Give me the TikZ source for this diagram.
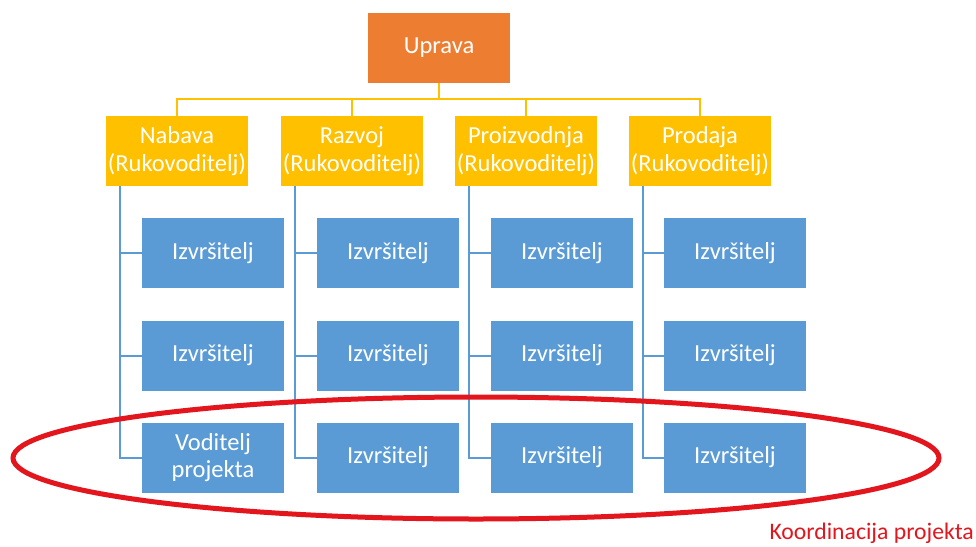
\documentclass[tikz,border=0pt]{standalone}
\usepackage{fontspec}
\setmainfont{Carlito}
\usetikzlibrary{calc,shapes.geometric}
\definecolor{cOrange}{HTML}{ED7D31}
\definecolor{cYellow}{HTML}{FFC000}
\definecolor{cBlue}{HTML}{5B9BD5}
\definecolor{cRed}{HTML}{E3161E}
\begin{document}
\begin{tikzpicture}[x=1pt,y=-1pt,
  box/.style={minimum width=142pt,minimum height=70pt,inner sep=0pt,align=center,
    text=white,font=\fontsize{24.5}{27.5}\selectfont},
  topbox/.style={box,fill=cOrange},
  headbox/.style={box,fill=cYellow},
  workbox/.style={box,fill=cBlue},
  yline/.style={draw=cYellow,line width=2pt},
  bline/.style={draw=cBlue,line width=2pt}]
\useasboundingbox (0,0) rectangle (976,546);
\fill[white] (0,0) rectangle (976,546);
% top
\node[topbox] (up) at (439,48) {Uprava};
% heads
\node[headbox] (h1) at (177,151) {Nabava\\(Rukovoditelj)};
\node[headbox] (h2) at (352,151) {Razvoj\\(Rukovoditelj)};
\node[headbox] (h3) at (526,151) {Proizvodnja\\(Rukovoditelj)};
\node[headbox] (h4) at (700,151) {Prodaja\\(Rukovoditelj)};
% workers
\node[workbox] (w11) at (213,253) {Izvršitelj};
\node[workbox] (w12) at (213,355.5) {Izvršitelj};
\node[workbox] (w13) at (213,457.5) {Voditelj\\projekta};
\node[workbox] (w21) at (388,253) {Izvršitelj};
\node[workbox] (w22) at (388,355.5) {Izvršitelj};
\node[workbox] (w23) at (388,457.5) {Izvršitelj};
\node[workbox] (w31) at (562,253) {Izvršitelj};
\node[workbox] (w32) at (562,355.5) {Izvršitelj};
\node[workbox] (w33) at (562,457.5) {Izvršitelj};
\node[workbox] (w41) at (735,253) {Izvršitelj};
\node[workbox] (w42) at (735,355.5) {Izvršitelj};
\node[workbox] (w43) at (735,457.5) {Izvršitelj};
% yellow connectors
\coordinate (bus) at ($(up.south)+(0,16)$);
\draw[yline] (up.south) -- (bus);
\draw[yline] (h1.north) |- (bus) -| (h4.north);
\draw[yline] (h2.north) -- (h2.north |- bus);
\draw[yline] (h3.north) -- (h3.north |- bus);
% blue connectors
\foreach \c in {1,2,3,4}{
  \foreach \r in {1,2,3}{
    \draw[bline] ($(h\c.south west)+(14,0)$) |- (w\c\r.west);
  }
}
% ellipse
\node[draw=cRed,line width=5pt,ellipse,minimum width=926pt,minimum height=122pt,inner sep=0pt] (koord) at (476,458) {};
\node[anchor=base east,text=cRed,inner sep=0pt,font=\fontsize{23.7}{27}\selectfont] (klabel) at (974,539.5) {Koordinacija projekta};
\end{tikzpicture}
\end{document}
